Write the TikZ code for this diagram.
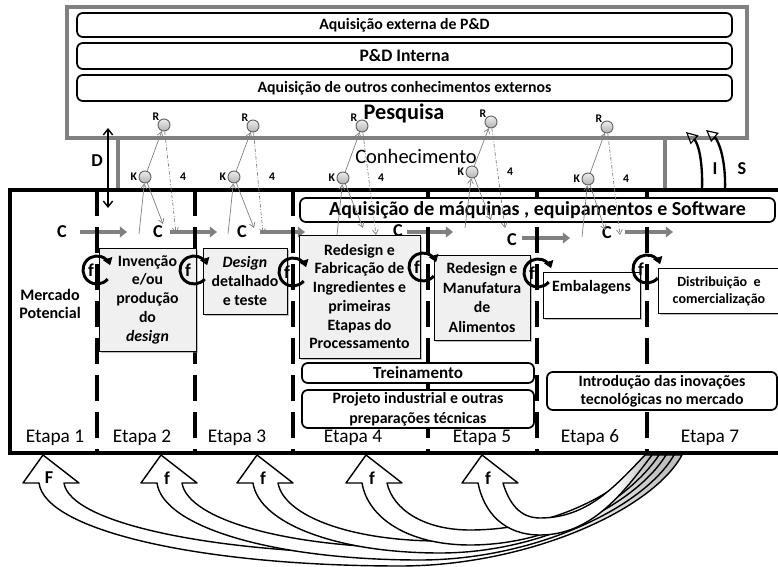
\documentclass[tikz,border=0pt]{standalone}
\usepackage{fontspec}
\setmainfont{Carlito}
\usetikzlibrary{arrows.meta,shadows,positioning}

\newcommand{\tam}[2]{\fontsize{#1}{#2}\selectfont}
\newcommand{\retro}[7][]{%
	\draw[bloco,#1] (#2,-455) -- ({#2-20},-483) -- ({#2-4},-483)
		.. controls ({#2+2},{-(483+0.57*(#6-483))}) and ({#2-4+0.45*(#5-#2)},-#6) .. (#5,-#6)
		.. controls ({#5+0.45*(#4-#5)},-#6) and ({#4-30},{-(455+0.5*(#6-455))}) .. (#4,-455)
		-- (#3,-455)
		.. controls ({#3-30},{-(455+0.5*(#7-455))}) and ({#5+0.45*(#3-#5)},-#7) .. (#5,-#7)
		.. controls ({#2+21+0.45*(#5-#2-21)},-#7) and ({#2+27},{-(483+0.57*(#7-483))}) .. ({#2+21},-483)
		-- ({#2+36},-483) -- cycle;
}
\pgfdeclarehorizontalshading{cauda}{100bp}{color(0bp)=(white); color(65bp)=(white); color(74bp)=(gray!50); color(100bp)=(gray!50)}

\tikzset{
	faixa/.style={draw, fill=white, line width=1.5pt, rounded corners=5pt, inner sep=0pt, align=center, font=\bfseries\tam{13.5}{17}},
	caixa/.style={draw, line width=0.6pt, fill=gray!12, inner sep=0pt, align=center, font=\bfseries\tam{13.5}{16}, drop shadow={shadow xshift=1.5pt, shadow yshift=-1.5pt, opacity=0.5}},
	rotulo/.style={inner sep=0pt, font=\bfseries\tam{15.5}{17}},
	pequeno/.style={inner sep=0pt, font=\bfseries\tam{10}{12}},
	etapa/.style={inner sep=0pt, font=\tam{16.5}{18}},
	bola/.style={circle, draw=gray!75!black, line width=0.8pt, top color=gray!15, bottom color=gray!60, minimum size=0.36cm, inner sep=0pt},
	fluxo/.style={draw=gray, line width=3.5pt, -{Triangle[length=6pt,width=9pt]}},
	divisa/.style={line width=2.6pt, dash pattern=on 0.78cm off 0.33cm},
	ciclo/.style={line width=2.5pt, -{Triangle[length=6pt,width=8pt]}},
	fino/.style={draw=gray, line width=0.6pt, -{Straight Barb[length=4pt,width=5pt]}},
	tracejado/.style={fino, dash pattern=on 3pt off 1.5pt on 0.8pt off 1.5pt},
	subida/.style={line width=2pt, -{Triangle[open, length=10pt, width=10pt, line width=1pt]}},
	bloco/.style={draw, line width=1.2pt, shade, shading=cauda, line join=round}
}

\begin{document}
\begin{tikzpicture}[x=0.03cm, y=0.03cm]
	\useasboundingbox (0,0) rectangle (778,-567);

	\retro{43}{673}{682}{400}{566}{554}
	\retro{161}{665}{674}{420}{560}{548}
	\retro{257}{658}{666}{440}{553}{541}
	\retro{366}{651}{659}{470}{545}{530}
	\retro{482}{645}{652}{540}{535}{518}
	\foreach \h/\t [count=\i] in {43/F,161/f,257/f,366/f,482/f}
		\node[rotulo] (fb\i) at (\h+6,-478) {\t};

	\draw[gray, line width=2.6pt] (67,-7) rectangle (747,-138);
	\draw[gray, line width=2.6pt] (118,-138) -- (118,-190) (665,-138) -- (665,-190);
	\node[faixa, minimum width=19.65cm, minimum height=0.72cm] (ext) at (404.5,-25) {Aquisição externa de P\&D};
	\node[faixa, minimum width=19.65cm, minimum height=0.78cm, font=\bfseries\tam{15}{17}] (pdi) at (404.5,-56) {P\&D Interna};
	\node[faixa, minimum width=19.65cm, minimum height=0.78cm] (outros) at (404.5,-88) {Aquisição de outros conhecimentos externos};
	\node[inner sep=0pt, font=\bfseries\tam{19}{21}] (pesq) at (404,-113) {Pesquisa};
	\node[inner sep=0pt, font=\tam{17.5}{19}] (conh) at (416,-156) {Conhecimento};

	\foreach \cx/\cy/\ax/\bx/\ay [count=\i] in {62/232/80/127/232, 158/232/170/217/232, 242/232/260/305/232, 398/231/407/453/232, 512/240/522/570/238, 607/233/625/673/232} {
		\node[rotulo] (c\i) at (\cx,-\cy) {C};
		\coordinate (ci\i) at (\ax,-\ay);
		\coordinate (cf\i) at (\bx,-\ay);
		\draw[fluxo] (ci\i) -- (cf\i);
	}

	\foreach \x in {97,195,293,428,537,647}
		\draw[divisa] (\x,-190) -- (\x,-452);
	\draw[line width=3.4pt] (10,-190) rectangle (800,-453);

	\node[faixa, minimum width=14.25cm, minimum height=0.72cm, font=\bfseries\tam{17}{19}] (maq) at (537.5,-210) {Aquisição de máquinas , equipamentos e Software};
	\node[caixa, minimum width=2.91cm, minimum height=3.09cm] (inv) at (147.5,-299.5) {Invenção\\e/ou\\produção\\do\\\textit{design}};
	\node[caixa, minimum width=2.52cm, minimum height=1.98cm] (det) at (245,-281) {\textit{Design}\\detalhado\\e teste};
	\node[caixa, minimum width=3.63cm, minimum height=3.69cm] (fab) at (359.5,-296.5) {Redesign e\\Fabricação de\\Ingredientes e\\primeiras\\Etapas do\\Processamento};
	\node[caixa, minimum width=2.88cm, minimum height=2.55cm, font=\bfseries\tam{13.5}{17}] (man) at (482,-297.5) {Redesign e\\Manufatura\\de\\Alimentos};
	\node[caixa, fill=white, minimum width=2.91cm, minimum height=1.38cm] (emb) at (591.5,-295) {};
	\node[inner sep=0pt, font=\bfseries\tam{13.5}{16}] (embt) at (591.5,-287) {Embalagens};
	\node[caixa, fill=white, minimum width=3.96cm, minimum height=1.35cm] (dis) at (724,-290.5) {};
	\node[inner sep=0pt, align=center, font=\bfseries\tam{12}{14.5}] (dist) at (719,-291) {Distribuição\ \ e\\comercialização};
	\node[faixa, minimum width=6.96cm, minimum height=0.6cm, font=\bfseries\tam{14.5}{16}] (trei) at (418,-373) {Treinamento};
	\node[faixa, minimum width=6.96cm, minimum height=1.14cm] (proj) at (418,-409) {Projeto industrial e outras\\preparações técnicas};
	\node[faixa, minimum width=6.9cm, minimum height=1.14cm, font=\bfseries\tam{13.5}{15.5}] (intro) at (662,-391) {Introdução das inovações\\tecnológicas no mercado};

	\foreach \cx/\cy [count=\i] in {97/270,194/270,293/272,423/267,538/273,647/269} {
		\node[rotulo] (f\i) at (\cx-6,-\cy) {f};
		\draw[ciclo] (\cx,-\cy) ++(-40:14) arc[start angle=-40, end angle=-340, radius=14];
	}

	\foreach \kx/\ky/\rx/\ry/\ux/\uy/\ax/\ay/\bx/\by [count=\i] in {
		145/177/164/125/139/234/163/224/176/233,
		234/177/253/126/228/234/254/228/263/234,
		343/178/362/126/337/235/363/228/376/235,
		472/172/491/122/465/228/491/220/505/228,
		588/179/607/127/582/237/605/230/620/235} {
		\node[bola] (k\i) at (\kx,-\ky) {};
		\node[bola] (r\i) at (\rx,-\ry) {};
		\node[pequeno, left=1pt of k\i] (lk\i) {K};
		\node[pequeno, above left=0pt of r\i.north west] (lr\i) {R};
		\node[pequeno] (q\i) at (\kx+38,-\ky) {4};
		\coordinate (u\i) at (\ux,-\uy);
		\coordinate (a\i) at (\ax,-\ay);
		\coordinate (b\i) at (\bx,-\by);
		\draw[fino] (u\i) -- (k\i);
		\draw[fino] (k\i) -- (r\i);
		\draw[fino] (k\i) -- (a\i);
		\draw[tracejado] (r\i) -- (b\i);
	}

	\coordinate (d0) at (108,-128);
	\coordinate (d1) at (108,-208);
	\draw[line width=1.2pt, {Straight Barb[length=5pt,width=8pt]}-{Straight Barb[length=5pt,width=8pt]}] (d0) -- (d1);
	\node[rotulo] (ld) at (97,-161) {D};

	\coordinate (i0) at (702,-190);
	\coordinate (i1) at (686,-132);
	\draw[subida] (i0) .. controls (703,-160) and (698,-143) .. (i1);
	\coordinate (s0) at (725,-190);
	\coordinate (s1) at (706,-130);
	\draw[subida] (s0) .. controls (726,-158) and (718,-140) .. (s1);
	\node[rotulo] (li) at (715,-169) {I};
	\node[rotulo] (ls) at (742,-169) {S};

	\node[inner sep=0pt, align=center, font=\bfseries\tam{13.7}{15.5}] (merc) at (50,-304) {Mercado\\Potencial};
	\foreach \x [count=\i] in {55,142,237,353,482,590,710}
		\node[etapa] (etapa\i) at (\x,-438) {Etapa \i};
\end{tikzpicture}
\end{document}
